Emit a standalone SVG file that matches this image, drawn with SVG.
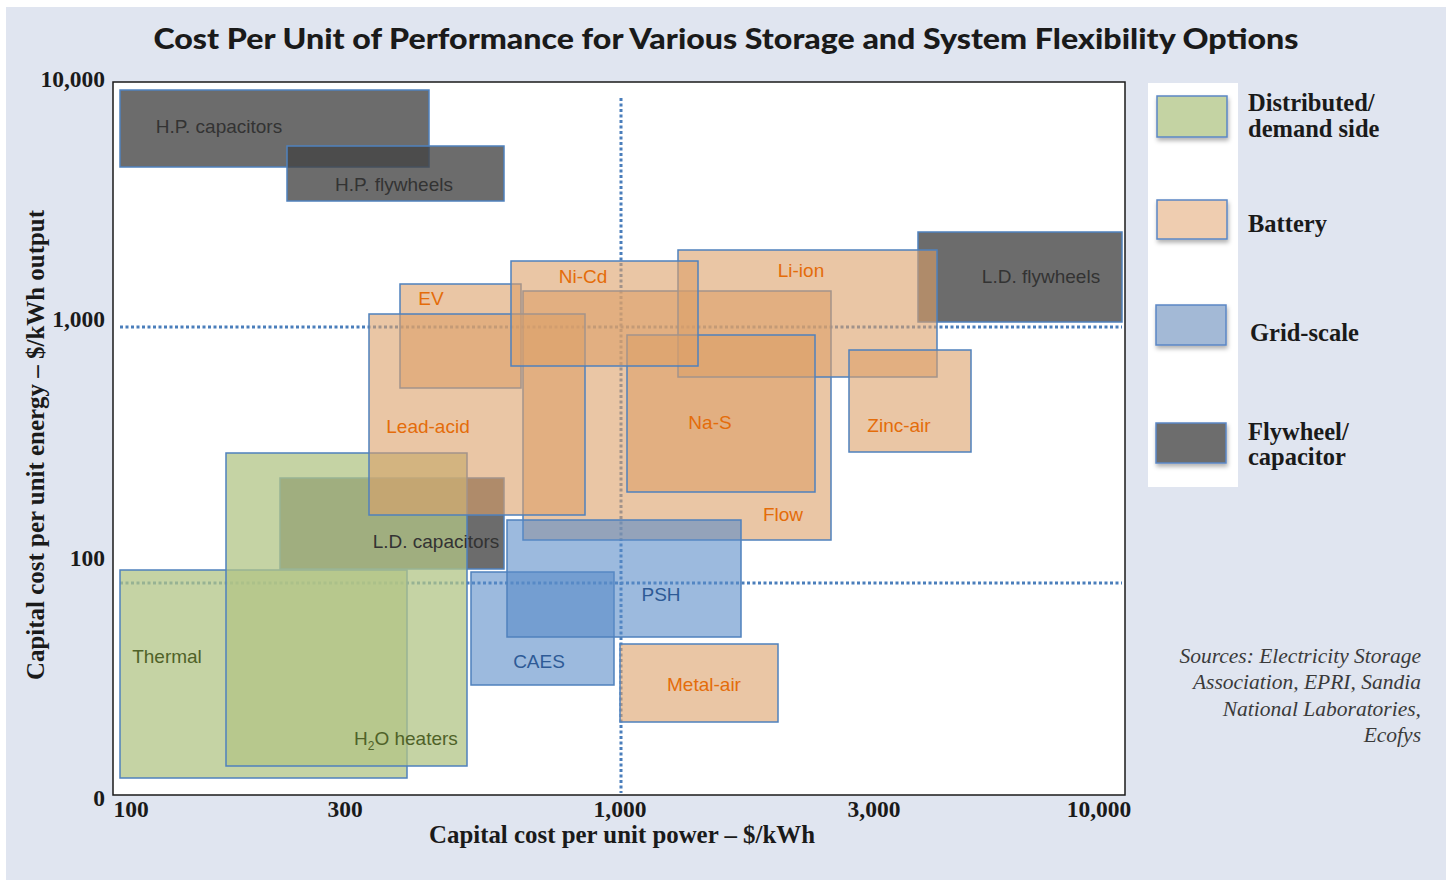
<svg xmlns="http://www.w3.org/2000/svg" width="1449" height="882" viewBox="0 0 1449 882">
<style>
.bg{fill:#e0e5f0}
.frame{fill:#ffffff;stroke:#1a1a1a;stroke-width:1.5}
.grid{fill:none;stroke:#4a7ebb;stroke-width:3;stroke-dasharray:3 2.5}
.dk{fill:rgb(66,66,66);fill-opacity:0.78;stroke:#4f81bd;stroke-width:1.5}
.gr{fill:rgb(177,196,133);fill-opacity:0.75;stroke:#4f81bd;stroke-width:1.5}
.or{fill:rgb(220,160,105);fill-opacity:0.6;stroke:#4f81bd;stroke-width:1.5}
.bl{fill:rgb(90,140,200);fill-opacity:0.6;stroke:#4f81bd;stroke-width:1.5}
.lbl{font-family:"Liberation Sans",Arial,sans-serif;font-size:19px;text-anchor:middle}
.ldk{fill:#333333}
.lor{fill:#e46c0a}
.lbl2{fill:#2e5a96}
.lgr{fill:#4f6228}
.title{font-family:"Lato","Liberation Sans",Arial,sans-serif;font-weight:900;font-size:28px;fill:#1a1a1a;text-anchor:middle}
.ax{font-family:"Liberation Serif","Times New Roman",serif;font-weight:bold;font-size:23.5px;fill:#1a1a1a}
.axt{font-family:"Liberation Serif","Times New Roman",serif;font-weight:bold;font-size:24.5px;fill:#1a1a1a;text-anchor:middle}
.leg{font-family:"Liberation Serif","Times New Roman",serif;font-weight:bold;font-size:24.5px;fill:#1a1a1a}
.src{font-family:"Liberation Serif","Times New Roman",serif;font-style:italic;font-size:21.5px;fill:#3a3a3a;text-anchor:end}
.sw{stroke:#5b87c5;stroke-width:1.5}
</style>
<defs>
<filter id="sh" x="-20%" y="-20%" width="140%" height="160%">
<feDropShadow dx="1" dy="3" stdDeviation="2" flood-color="#000" flood-opacity="0.3"/>
</filter>
</defs>
<rect class="bg" x="6" y="7" width="1440" height="873"/>
<text id="title" class="title" x="726" y="49" textLength="1145" lengthAdjust="spacingAndGlyphs">Cost Per Unit of Performance for Various Storage and System Flexibility Options</text>
<g id="plot-area">
<rect class="frame" x="113" y="82" width="1012" height="713"/>
</g>
<g id="axes">
<text class="ax" x="105" y="87" text-anchor="end">10,000</text>
<text class="ax" x="105" y="327" text-anchor="end">1,000</text>
<text class="ax" x="105" y="566" text-anchor="end">100</text>
<text class="ax" x="105" y="806" text-anchor="end">0</text>
<text class="ax" x="131" y="817" text-anchor="middle">100</text>
<text class="ax" x="345" y="817" text-anchor="middle">300</text>
<text class="ax" x="620" y="817" text-anchor="middle">1,000</text>
<text class="ax" x="874" y="817" text-anchor="middle">3,000</text>
<text class="ax" x="1099" y="817" text-anchor="middle">10,000</text>
<text class="axt" x="622" y="843" textLength="386" lengthAdjust="spacingAndGlyphs">Capital cost per unit power – $/kWh</text>
<text class="axt" transform="translate(44,445) rotate(-90)" textLength="470" lengthAdjust="spacingAndGlyphs">Capital cost per unit energy – $/kWh output</text>
</g>
<g id="connectors">
<line class="grid" x1="120" y1="327" x2="1122" y2="327"/>
<line class="grid" x1="120" y1="583" x2="1122" y2="583"/>
<line class="grid" x1="621" y1="98" x2="621" y2="793"/>
</g>
<g id="hp-capacitors"><rect class="dk" x="120" y="90" width="309" height="77"/></g>
<g id="hp-flywheels"><rect class="dk" x="287" y="146" width="217" height="55"/></g>
<g id="ld-flywheels"><rect class="dk" x="918" y="232" width="204" height="90"/></g>
<g id="ld-capacitors"><rect class="dk" x="280" y="478" width="224" height="91"/></g>
<g id="thermal"><rect class="gr" x="120" y="570" width="287" height="208"/></g>
<g id="h2o-heaters"><rect class="gr" x="226" y="453" width="241" height="313"/></g>
<g id="flow"><rect class="or" x="523" y="291" width="308" height="249"/></g>
<g id="li-ion"><rect class="or" x="678" y="250" width="259" height="127"/></g>
<g id="na-s"><rect class="or" x="627" y="335" width="188" height="157"/></g>
<g id="ev"><rect class="or" x="400" y="284" width="121" height="104"/></g>
<g id="lead-acid"><rect class="or" x="369" y="314" width="216" height="201"/></g>
<g id="ni-cd"><rect class="or" x="511" y="261" width="187" height="105"/></g>
<g id="zinc-air"><rect class="or" x="849" y="350" width="122" height="102"/></g>
<g id="metal-air"><rect class="or" x="620" y="644" width="158" height="78"/></g>
<g id="caes"><rect class="bl" x="471" y="572" width="143" height="113"/></g>
<g id="psh"><rect class="bl" x="507" y="520" width="234" height="117"/></g>
<g id="labels">
<text class="lbl ldk" x="219" y="133">H.P. capacitors</text>
<text class="lbl ldk" x="394" y="191">H.P. flywheels</text>
<text class="lbl ldk" x="1041" y="283">L.D. flywheels</text>
<text class="lbl ldk" x="436" y="548">L.D. capacitors</text>
<text class="lbl lgr" x="167" y="663">Thermal</text>
<text class="lbl lgr" x="354" y="745" style="text-anchor:start">H<tspan font-size="12" dy="5">2</tspan><tspan dy="-5">O heaters</tspan></text>
<text class="lbl lor" x="431" y="305">EV</text>
<text class="lbl lor" x="583" y="283">Ni-Cd</text>
<text class="lbl lor" x="801" y="277">Li-ion</text>
<text class="lbl lor" x="428" y="433">Lead-acid</text>
<text class="lbl lor" x="710" y="429">Na-S</text>
<text class="lbl lor" x="899" y="432">Zinc-air</text>
<text class="lbl lor" x="783" y="521">Flow</text>
<text class="lbl lbl2" x="661" y="601">PSH</text>
<text class="lbl lbl2" x="539" y="668">CAES</text>
<text class="lbl lor" x="704" y="691">Metal-air</text>
</g>
<g id="legend">
<rect x="1148" y="83" width="90" height="404" fill="#ffffff"/>
<rect class="sw" x="1157" y="96" width="70" height="41" fill="#c4d3a3" filter="url(#sh)"/>
<rect class="sw" x="1157" y="200" width="70" height="39" fill="#efcdb0" filter="url(#sh)"/>
<rect class="sw" x="1156" y="305" width="70" height="40" fill="#a3b9d6" filter="url(#sh)"/>
<rect class="sw" x="1156" y="423" width="70" height="40" fill="#6d6d6d" filter="url(#sh)"/>
<text class="leg" x="1248" y="111">Distributed/</text>
<text class="leg" x="1248" y="137">demand side</text>
<text class="leg" x="1248" y="232">Battery</text>
<text class="leg" x="1250" y="341">Grid-scale</text>
<text class="leg" x="1248" y="440">Flywheel/</text>
<text class="leg" x="1248" y="465">capacitor</text>
</g>
<g id="sources">
<text class="src" x="1421" y="663">Sources: Electricity Storage</text>
<text class="src" x="1421" y="689">Association, EPRI, Sandia</text>
<text class="src" x="1421" y="716">National Laboratories,</text>
<text class="src" x="1421" y="742">Ecofys</text>
</g>
</svg>
